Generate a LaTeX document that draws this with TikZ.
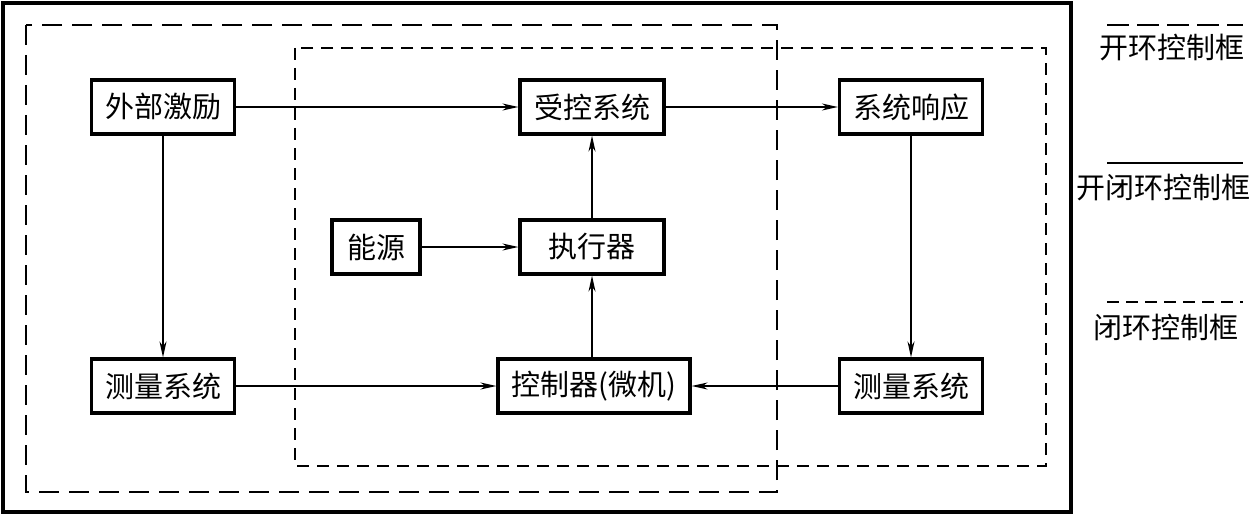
\documentclass[tikz,border=0pt]{standalone}
\usepackage{fontspec}
\setmainfont{Noto Sans CJK SC}
\usetikzlibrary{arrows.meta}
\tikzset{
  blk/.style={draw, line width=3.2pt, minimum height=54pt, inner sep=0pt, font=\fontsize{29}{32}\selectfont},
  conn/.style={line width=1.3pt, -{Stealth[length=16pt,width=7pt,inset=5pt]}},
  openbox/.style={line width=1.5pt, dash pattern=on 20pt off 10pt},
  closedbox/.style={line width=1.5pt, dash pattern=on 12pt off 8pt},
  lgd/.style={font=\fontsize{29}{32}\selectfont}
}
\begin{document}
\begin{tikzpicture}[x=1pt,y=-1pt]
\useasboundingbox (0,0) rectangle (1260,516);
% outer frame
\draw[line width=4.5pt] (3,3) rectangle (1071,512);
% dashed frames
\draw[openbox] (26,25) rectangle (777,492);
\draw[closedbox] (295,48) rectangle (1046,466);
% blocks
\node[blk, minimum width=143pt] (ext) at (163,107) {外部激励};
\node[blk, minimum width=144pt] (plant) at (592,107) {受控系统};
\node[blk, minimum width=143pt] (resp) at (911,107) {系统响应};
\node[blk, minimum width=88pt] (pwr) at (376,247) {能源};
\node[blk, minimum width=144pt] (act) at (592,247) {执行器};
\node[blk, minimum width=143pt] (meas1) at (163,386) {测量系统};
\node[blk, minimum width=192pt] (ctrl) at (594,386) {控制器(微机)};
\node[blk, minimum width=143pt] (meas2) at (911,386) {测量系统};
% connectors
\draw[conn] (ext) -- (plant);
\draw[conn] (plant) -- (resp);
\draw[conn] (ext) -- (meas1);
\draw[conn] (resp) -- (meas2);
\draw[conn] (meas1) -- (ctrl);
\draw[conn] (meas2) -- (ctrl);
\draw[conn] (pwr) -- (act);
\draw[conn] (act.north) -- (plant.south);
\draw[conn] (ctrl.north -| act) -- (act.south);
% legend
\coordinate (l1a) at (1107,25); \coordinate (l1b) at (1243,25);
\coordinate (l2a) at (1107,163); \coordinate (l2b) at (1243,163);
\coordinate (l3a) at (1107,302); \coordinate (l3b) at (1243,302);
\draw[line width=1.5pt, dash pattern=on 22pt off 8pt] (l1a) -- (l1b);
\draw[line width=1.5pt] (l2a) -- (l2b);
\draw[line width=1.5pt, dash pattern=on 12pt off 7pt] (l3a) -- (l3b);
\node[lgd] (t1) at (1172,48) {开环控制框};
\node[lgd] (t2) at (1163,188) {开闭环控制框};
\node[lgd] (t3) at (1166,327) {闭环控制框};
\end{tikzpicture}
\end{document}
